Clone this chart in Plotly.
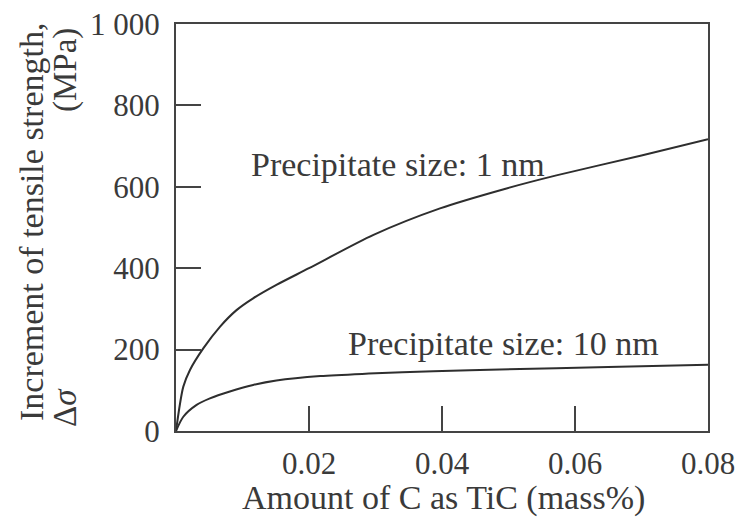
import plotly.graph_objects as go

# data
x_1nm = [0, 0.0011, 0.0021, 0.0041, 0.0066, 0.0091, 0.0116, 0.0151, 0.02, 0.0297, 0.0397, 0.0497, 0.0572, 0.07, 0.08]
y_1nm = [0, 109, 150, 203, 256, 297, 326, 359, 400, 482, 547, 596, 628, 677, 717]

x_10nm = [0, 0.0011, 0.0031, 0.0051, 0.0081, 0.0116, 0.0151, 0.0217, 0.029, 0.0387, 0.0487, 0.065, 0.08]
y_10nm = [0, 35, 64, 80, 97, 113, 124, 135, 141, 147, 151, 157, 163]

x_ticks = [0.02, 0.04, 0.06, 0.08]
x_ticklabels = ["0.02", "0.04", "0.06", "0.08"]
y_ticks = [0, 200, 400, 600, 800, 1000]
y_ticklabels = ["0", "200", "400", "600", "800", "1 000"]

FONT = "Liberation Serif"
TXT = "#3a3a3a"
LINE = "#2e2e2e"

fig = go.Figure()
fig.add_trace(go.Scatter(x=x_1nm, y=y_1nm, mode="lines", line=dict(color=LINE, width=2, shape="spline", smoothing=0.8), showlegend=False))
fig.add_trace(go.Scatter(x=x_10nm, y=y_10nm, mode="lines", line=dict(color=LINE, width=2, shape="spline", smoothing=0.8), showlegend=False))

L, R, T, B = 176, 32, 24, 95
W, H = 740, 526
pw, ph = W - L - R, H - T - B

def px(xp):
    return (xp - L) / pw

def py(yp):
    return (H - B - yp) / ph

axis_common = dict(
    ticks="inside", ticklen=25, tickwidth=2, tickcolor="#444",
    showgrid=False, zeroline=False, showline=True, linewidth=2, linecolor="#444", mirror=True,
    automargin=False, tickfont=dict(size=31, family=FONT, color=TXT),
)

fig.update_layout(
    template="none",
    width=W, height=H,
    margin=dict(l=L, r=R, t=T, b=B),
    paper_bgcolor="white", plot_bgcolor="white",
    font=dict(family=FONT, color=TXT),
    showlegend=False,
    xaxis=dict(range=[0, 0.08], tickmode="array", tickvals=x_ticks, ticktext=x_ticklabels,
               ticklabelstandoff=4, **axis_common),
    yaxis=dict(range=[0, 1000], tickmode="array", tickvals=y_ticks, ticktext=y_ticklabels,
               ticklabelstandoff=8, **axis_common),
    annotations=[
        dict(text="Precipitate size: 1 nm", x=0.03338, y=654, xref="x", yref="y", showarrow=False,
             xanchor="center", yanchor="middle", font=dict(size=34, family=FONT, color=TXT)),
        dict(text="Precipitate size: 10 nm", x=0.04925, y=216, xref="x", yref="y", showarrow=False,
             xanchor="center", yanchor="middle", font=dict(size=34, family=FONT, color=TXT)),
        dict(text="Amount of C as TiC (mass%)", x=px(443), y=py(498), xref="paper", yref="paper",
             showarrow=False, xanchor="center", yanchor="middle", font=dict(size=34, family=FONT, color=TXT)),
        dict(text="Increment of tensile strength,", x=px(31), y=py(222), xref="paper", yref="paper",
             showarrow=False, textangle=-90, xanchor="center", yanchor="middle",
             font=dict(size=34, family=FONT, color=TXT)),
        dict(text="Δ<i>σ</i>", x=px(65), y=py(408), xref="paper", yref="paper",
             showarrow=False, textangle=-90, xanchor="center", yanchor="middle",
             font=dict(size=33, family=FONT, color=TXT)),
        dict(text="(MPa)", x=px(65), y=py(70), xref="paper", yref="paper",
             showarrow=False, textangle=-90, xanchor="center", yanchor="middle",
             font=dict(size=33, family=FONT, color=TXT)),
    ],
)

fig.write_html("out.html", config={"displayModeBar": False},
               post_script="document.body.style.margin='0';document.body.style.overflow='hidden';")
